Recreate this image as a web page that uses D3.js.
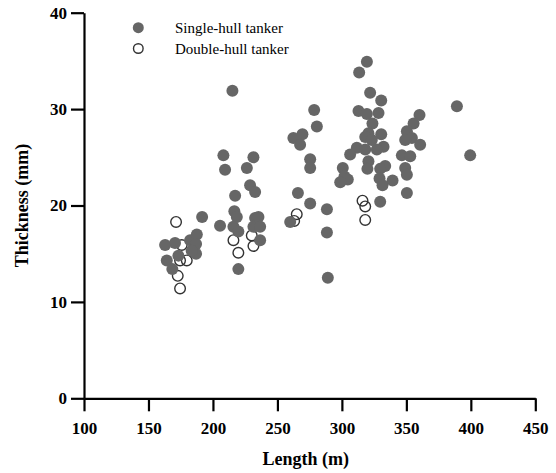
<!DOCTYPE html>
<html>
<head>
<meta charset="utf-8">
<script src="https://cdn.jsdelivr.net/npm/d3@7"></script>
<style>
  body { margin: 0; background: #fff; }
  svg { display: block; }
</style>
</head>
<body>
<svg id="chart" width="556" height="473"></svg>
<script>
// ---- Data (Length m, Thickness mm) ----
const singleHull = [
  // ~160-200 m group
  [191.6,18.8],[162.9,15.9],[170.6,16.1],[182.3,16.4],[187.5,17.0],[186.9,16.0],
  [186.9,15.0],[173.2,14.8],[164.2,14.3],[168.5,13.4],[183.5,15.3],
  // ~200-240 m group
  [215.1,31.9],[208.1,25.2],[231.4,25.0],[209.4,23.7],[226.3,23.9],[228.8,22.1],
  [232.7,21.4],[217.2,21.0],[216.6,19.4],[218.5,18.8],[205.5,17.9],[215.9,17.8],
  [219.7,17.3],[232.7,18.7],[235.3,18.8],[231.4,17.8],[236.6,17.8],[236.6,16.4],
  [219.7,13.4],
  // ~260-290 m group
  [278.5,29.9],[280.6,28.2],[262.4,27.0],[269.4,27.4],[267.6,26.3],[275.4,24.8],
  [275.4,23.9],[265.9,21.3],[275.4,20.2],[288.4,19.6],[288.4,17.2],[259.9,18.3],
  [289.1,12.5],
  // ~300-340 m group
  [319.4,34.9],[313.4,33.8],[321.9,31.7],[330.5,30.9],[312.9,29.8],[319.4,29.5],
  [328.4,29.6],[323.7,28.5],[320.6,27.5],[330.5,27.4],[318.1,27.1],[323.2,26.8],
  [332.3,26.1],[311.6,26.0],[306.4,25.3],[318.1,25.8],[327.1,25.8],[320.6,24.6],
  [319.8,23.8],[333.6,24.1],[329.7,23.8],[300.7,23.9],[302.0,23.0],[304.6,22.7],
  [298.7,22.4],[329.2,22.8],[331.5,22.1],[339.3,22.6],[329.7,20.4],
  // ~345-400 m group
  [389.2,30.3],[360.2,29.4],[355.6,28.5],[350.4,27.7],[354.3,27.0],[349.1,26.8],
  [360.7,26.3],[399.5,25.2],[346.5,25.2],[353.0,25.1],[349.1,23.9],[350.4,23.2],
  [350.4,21.3]
];
const doubleHull = [
  [171.4,18.3],[175.8,15.9],[174.5,14.3],[179.7,14.3],[172.7,12.7],[174.5,11.4],
  [215.9,16.4],[219.7,15.1],[230.1,16.9],[231.4,15.8],
  [265.0,19.1],[263.0,18.4],
  [316.0,20.5],[318.1,19.9],[318.1,18.5]
];
const xTicks = [100,150,200,250,300,350,400,450];
const yTicks = [0,10,20,30,40];
const seriesNames = ["Single-hull tanker","Double-hull tanker"];
const axisTitles = {x: "Length (m)", y: "Thickness (mm)"};

// ---- Chart ----
const svg = d3.select("#chart");
const x = d3.scaleLinear().domain([100,450]).range([84,535.3]);
const y = d3.scaleLinear().domain([0,40]).range([398.3,12.7]);
const serif = "'Liberation Serif','Times New Roman',serif";
const fillCol = "#666666";
const openCol = "#333333";

// open markers (no fill) first, filled on top
svg.append("g").selectAll("circle").data(doubleHull).join("circle")
  .attr("cx", d => x(d[0])).attr("cy", d => y(d[1])).attr("r", 5.3)
  .attr("fill", "none").attr("stroke", openCol).attr("stroke-width", 1.4);

svg.append("g").selectAll("circle").data(singleHull).join("circle")
  .attr("cx", d => x(d[0])).attr("cy", d => y(d[1])).attr("r", 6)
  .attr("fill", fillCol);

// axes
const xAxis = svg.append("g").attr("transform", `translate(0,${y(0)})`)
  .call(d3.axisBottom(x).tickValues(xTicks).tickFormat(d3.format("d"))
    .tickSize(13).tickSizeOuter(0).tickPadding(11));
const yAxis = svg.append("g").attr("transform", `translate(${x(100)},0)`)
  .call(d3.axisLeft(y).tickValues(yTicks).tickFormat(d3.format("d"))
    .tickSize(13).tickSizeOuter(0).tickPadding(4));

[xAxis, yAxis].forEach(g => {
  g.select(".domain").attr("stroke", "#000").attr("stroke-width", 2.2);
  g.selectAll(".tick line").attr("stroke", "#000").attr("stroke-width", 2.2);
  g.selectAll(".tick text").attr("fill", "#000")
    .style("font-family", serif).style("font-weight", "bold").style("font-size", "17px");
});

// axis titles
svg.append("text").attr("x", (x(100)+x(450))/2 - 4).attr("y", 465)
  .attr("text-anchor", "middle")
  .style("font-family", serif).style("font-weight", "bold").style("font-size", "18px")
  .text(axisTitles.x);
svg.append("text")
  .attr("transform", `translate(28,${(y(0)+y(40))/2}) rotate(-90)`)
  .attr("text-anchor", "middle")
  .style("font-family", serif).style("font-weight", "bold").style("font-size", "18px")
  .text(axisTitles.y);

// legend
const legend = svg.append("g");
legend.append("circle").attr("cx", 138.3).attr("cy", 27.7).attr("r", 5.5).attr("fill", fillCol);
legend.append("circle").attr("cx", 138.3).attr("cy", 48.5).attr("r", 4.8)
  .attr("fill", "none").attr("stroke", openCol).attr("stroke-width", 1.4);
legend.selectAll("text").data(seriesNames).join("text")
  .attr("x", 175).attr("y", (d,i) => 28 + i*20.5)
  .attr("dominant-baseline", "central")
  .style("font-family", serif).style("font-size", "15px").attr("fill", "#000")
  .text(d => d);
</script>
</body>
</html>
